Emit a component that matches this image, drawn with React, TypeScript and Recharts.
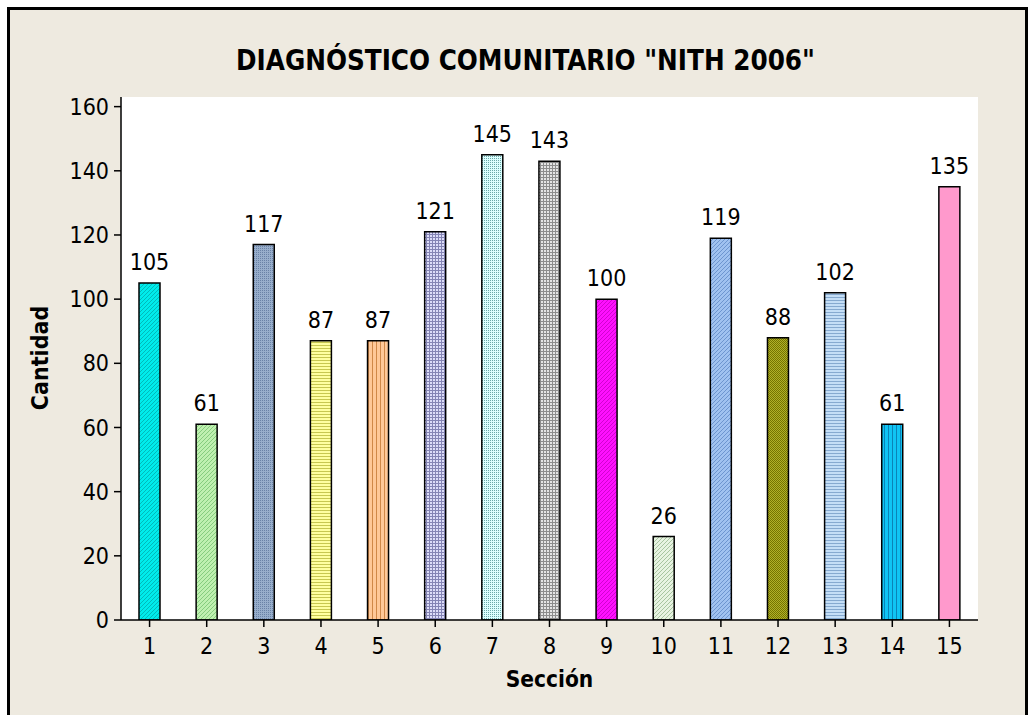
import { BarChart, Bar, XAxis, YAxis, Cell, LabelList } from "recharts";

const secciones = ["1", "2", "3", "4", "5", "6", "7", "8", "9", "10", "11", "12", "13", "14", "15"];
const cantidad = [105, 61, 117, 87, 87, 121, 145, 143, 100, 26, 119, 88, 102, 61, 135];
const yTicks = [0, 20, 40, 60, 80, 100, 120, 140, 160];

const data = secciones.map((s, i) => ({ seccion: s, cantidad: cantidad[i] }));

const FONT = "'DejaVu Sans Condensed', 'DejaVu Sans', sans-serif";

// [background, line colour, kind]
const patterns: [string, string, string][] = [
    ["#00ecec", "#00b4b4", "diag"],
    ["#bff0b0", "#80c878", "diag"],
    ["#98aecb", "#6a82a6", "dots"],
    ["#ffffa0", "#c8c850", "hlines"],
    ["#ffc898", "#d08848", "vlines"],
    ["#dcdcf8", "#8484b4", "grid"],
    ["#dcffff", "#6aa8a8", "dots"],
    ["#e4e4e4", "#8c8c8c", "grid"],
    ["#ff10ff", "#cc00cc", "diag"],
    ["#e8f4e2", "#a0c098", "diag"],
    ["#a0c2f0", "#6890cc", "diag"],
    ["#b0b028", "#747400", "check"],
    ["#c4def6", "#86aad0", "hlines"],
    ["#10c4f4", "#0a84b8", "vlines"],
    ["#ff99cc", "#ff99cc", "solid"],
];

const PatternDef = ({ id, bg, fg, kind }: { id: string; bg: string; fg: string; kind: string }) => {
    let inner = null;
    if (kind === "diag") inner = <path d="M0,4 L4,0 M-1,1 L1,-1 M3,5 L5,3" stroke={fg} strokeWidth={0.9} />;
    if (kind === "dots") inner = <rect x={0} y={0} width={1} height={1} fill={fg} />;
    if (kind === "hlines") inner = <rect x={0} y={0} width={4} height={1} fill={fg} />;
    if (kind === "vlines") inner = <rect x={0} y={0} width={1} height={4} fill={fg} />;
    if (kind === "grid") inner = <path d="M0,0.5 H3 M0.5,0 V3" stroke={fg} strokeWidth={1} />;
    if (kind === "check") inner = <><rect x={0} y={0} width={1} height={1} fill={fg} /><rect x={1} y={1} width={1} height={1} fill={fg} /></>;
    const size = kind === "grid" ? 3 : kind === "check" ? 2 : kind === "dots" ? 2 : kind === "hlines" ? 3 : 4;
    return (
        <pattern id={id} patternUnits="userSpaceOnUse" width={size} height={size}>
            <rect x={0} y={0} width={size} height={size} fill={bg} />
            {inner}
        </pattern>
    );
};

export default function App() {
    return (
        <div style={{ position: "absolute", left: 0, top: 0, width: 1031, height: 715, overflow: "hidden", fontFamily: FONT }}>
            <div style={{
                position: "absolute", left: 7, top: 7, width: 1015, height: 720,
                background: "#eeeae0", borderLeft: "3px solid #000", borderTop: "3px solid #000", borderRight: "3px solid #000",
            }} />
            <div style={{ position: "absolute", left: 0, top: 42, width: 1031, textAlign: "center", fontWeight: "bold", fontSize: 27.5, lineHeight: "36px", color: "#000" }}>
                <span style={{ position: "relative", left: 10 }}>DIAGNÓSTICO COMUNITARIO "NITH 2006"</span>
            </div>
            <div style={{ position: "absolute", left: 0, top: 0 }}>
                <BarChart width={1031} height={715} data={data}
                    margin={{ top: 97, right: 53, left: 0, bottom: 0 }}
                    barCategoryGap="0%"
                >
                    <defs>
                        {patterns.map((p, i) => (
                            <PatternDef key={i} id={`pat${i}`} bg={p[0]} fg={p[1]} kind={p[2]} />
                        ))}
                    </defs>
                    <rect x={121} y={97} width={857} height={523} fill="#ffffff" />
                    <XAxis dataKey="seccion" height={95} tickSize={7} tickMargin={11}
                        axisLine={{ stroke: "#000", strokeWidth: 1.5 }}
                        tickLine={{ stroke: "#000", strokeWidth: 1.5 }}
                        tick={{ fill: "#000", fontSize: 23, fontFamily: FONT }}
                        label={{ value: "Sección", position: "insideBottom", offset: 28, fill: "#000", fontSize: 22.5, fontWeight: "bold", fontFamily: FONT }}
                    />
                    <XAxis xAxisId="top" dataKey="seccion" orientation="top" height={0} tick={false} tickLine={false}
                        axisLine={{ stroke: "#000", strokeWidth: 1.5 }} />
                    <YAxis width={121} domain={[0, 163]} ticks={yTicks} tickSize={7} tickMargin={5}
                        allowDataOverflow
                        axisLine={{ stroke: "#000", strokeWidth: 1.5 }}
                        tickLine={{ stroke: "#000", strokeWidth: 1.5 }}
                        tick={{ fill: "#000", fontSize: 23, fontFamily: FONT }}
                    />
                    <YAxis yAxisId="right" orientation="right" width={0} tick={false} tickLine={false}
                        axisLine={{ stroke: "#000", strokeWidth: 1.5 }} />
                    <Bar dataKey="cantidad" barSize={21} stroke="#000" strokeWidth={1.5} isAnimationActive={false}>
                        {data.map((d, i) => (
                            <Cell key={d.seccion} fill={`url(#pat${i})`} />
                        ))}
                        <LabelList dataKey="cantidad" position="top" offset={13} fill="#000" fontSize={23} fontFamily={FONT} />
                    </Bar>
                </BarChart>
            </div>
            <div style={{
                position: "absolute", left: 40, top: 358, transform: "translate(-50%, -50%) rotate(-90deg)",
                fontWeight: "bold", fontSize: 23, color: "#000", whiteSpace: "nowrap",
            }}>Cantidad</div>
        </div>
    );
}
